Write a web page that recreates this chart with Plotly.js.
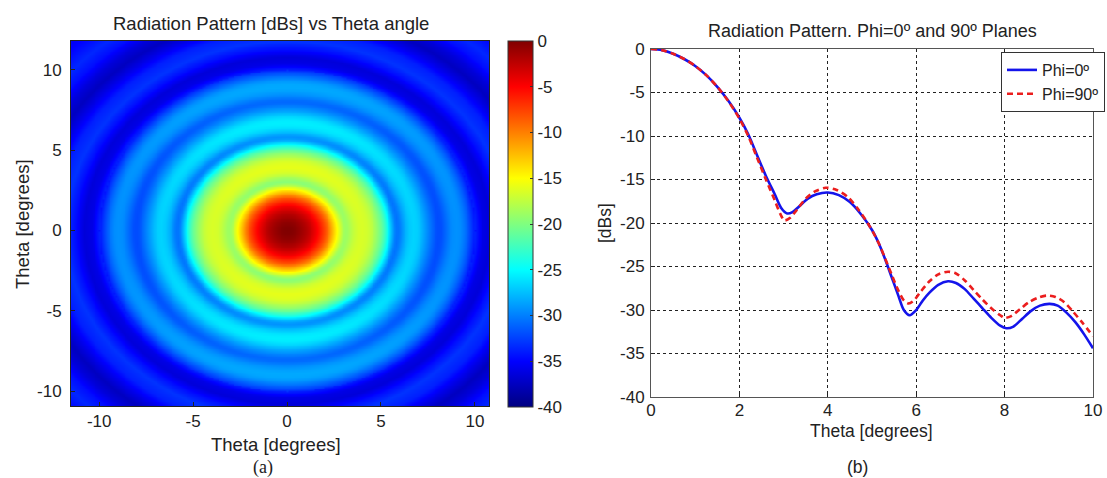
<!DOCTYPE html>
<html>
<head>
<meta charset="utf-8">
<script src="https://cdn.plot.ly/plotly-3.0.1.min.js"></script>
<style>html,body{margin:0;padding:0;background:#fff}#chart{width:1107px;height:478px}</style>
</head>
<body>
<div id="chart"></div>
<script>
// ---- Phi = 0 deg cut (blue, solid) ----
const thetaPhi0 = [0,0.25,0.5,0.75,1.0,1.25,1.5,1.75,2.0,2.2,2.4,2.6,2.8,2.95,3.08,3.2,3.35,3.55,3.75,4.0,4.25,4.5,4.75,5.0,5.15,5.3,5.45,5.6,5.72,5.85,6.0,6.15,6.3,6.5,6.72,6.9,7.1,7.3,7.5,7.7,7.9,8.04,8.2,8.4,8.6,8.8,9.02,9.2,9.4,9.6,9.8,10.0];
const dbPhi0 = [0,-0.13,-0.55,-1.15,-1.95,-3.0,-4.35,-5.95,-7.9,-9.8,-12.2,-14.6,-16.7,-18.3,-18.9,-18.75,-18.1,-17.2,-16.7,-16.5,-16.8,-17.6,-19.0,-20.8,-22.3,-24.2,-26.3,-28.4,-30.0,-30.6,-30.0,-28.9,-28.0,-27.1,-26.7,-26.9,-27.6,-28.7,-29.8,-30.9,-31.8,-32.1,-31.9,-31.0,-30.1,-29.5,-29.3,-29.5,-30.3,-31.4,-32.8,-34.4];
// ---- Phi = 90 deg cut (red, dashed) ----
const thetaPhi90 = [0,0.25,0.5,0.75,1.0,1.25,1.5,1.75,2.0,2.2,2.4,2.6,2.8,2.92,3.02,3.15,3.3,3.5,3.7,3.95,4.2,4.45,4.7,4.95,5.15,5.3,5.45,5.6,5.72,5.83,5.95,6.1,6.3,6.5,6.72,6.9,7.1,7.3,7.5,7.7,7.9,8.0,8.15,8.35,8.55,8.75,8.94,9.15,9.35,9.55,9.75,10.0];
const dbPhi90 = [0,-0.13,-0.55,-1.15,-1.95,-3.0,-4.35,-6.0,-8.0,-10.0,-12.5,-15.0,-17.4,-18.9,-19.7,-19.4,-18.5,-17.2,-16.4,-15.95,-16.2,-17.0,-18.5,-20.4,-22.3,-24.1,-26.0,-27.8,-28.9,-29.25,-28.9,-27.9,-26.7,-25.9,-25.6,-25.8,-26.6,-27.7,-28.8,-29.8,-30.6,-30.9,-30.7,-29.9,-29.1,-28.6,-28.35,-28.5,-29.1,-30.2,-31.4,-33.0];
// ---- outer radial levels (beyond 10 deg) ----
const thetaOuter = [10.0,10.4,10.8,11.3,11.8,12.4,13.0,13.5,14.0,14.6,15.2,15.8,16.8];
const dbOuter = [-33.7,-36.0,-36.5,-34.5,-33.0,-33.8,-36.0,-37.5,-36.5,-34.5,-33.5,-34.5,-36.0];
// ---- tick labels ----
const mapTicks = [-10,-5,0,5,10];
const cbarTicks = [0,-5,-10,-15,-20,-25,-30,-35,-40];
const cutXTicks = [0,2,4,6,8,10];
const cutYTicks = [0,-5,-10,-15,-20,-25,-30,-35,-40];

function interp(xs, ys, x){
  if (x <= xs[0]) return ys[0];
  for (let i=1;i<xs.length;i++){
    if (x <= xs[i]){ const t=(x-xs[i-1])/(xs[i]-xs[i-1]); return ys[i-1]+t*(ys[i]-ys[i-1]); }
  }
  return ys[ys.length-1];
}
// colour map built from the two cuts (blended by azimuth) and the outer levels
const gx = [], gy = [];
for (let v=-11.6; v<=10.86; v+=0.1) gx.push(+v.toFixed(2));
for (let v=-11.0; v<=11.9; v+=0.1) gy.push(+v.toFixed(2));
const gz = gy.map(y => gx.map(x => {
  const r = Math.hypot(x,y);
  if (r > 10) return interp(thetaOuter, dbOuter, r);
  const c2 = r===0 ? 1 : (x*x)/(r*r);
  return c2*interp(thetaPhi0, dbPhi0, r) + (1-c2)*interp(thetaPhi90, dbPhi90, r);
}));

const jet = [[0,'rgb(0,0,128)'],[0.125,'rgb(0,0,255)'],[0.375,'rgb(0,255,255)'],[0.625,'rgb(255,255,0)'],[0.875,'rgb(255,0,0)'],[1,'rgb(128,0,0)']];
const W=1107, H=478;
const px = v => v/W, py = v => 1 - v/H;
const FONT = 'Liberation Sans, Arial, sans-serif';
const TXT = '#222';
const lbl = a => a.map(v => String(v));   // ASCII hyphen minus, as in the reference

const traces = [
  {type:'heatmap', x:gx, y:gy, z:gz, xaxis:'x', yaxis:'y', colorscale:jet, zmin:-40, zmax:0, zsmooth:'best', showscale:true, hoverinfo:'skip',
   colorbar:{x:px(508), xanchor:'left', xref:'paper', y:py(41), yanchor:'top', yref:'paper', len:366, lenmode:'pixels', thickness:25, thicknessmode:'pixels',
     xpad:0, ypad:0, outlinewidth:1, outlinecolor:'#333', tickvals:cbarTicks, ticktext:lbl(cbarTicks), ticks:'inside', ticklen:3, tickcolor:'#333',
     tickfont:{family:FONT, size:17, color:TXT}, ticklabelstandoff:0}},
  {type:'scatter', mode:'lines', name:'Phi=0º', x:thetaPhi0, y:dbPhi0, xaxis:'x2', yaxis:'y2', line:{color:'rgb(20,20,235)', width:2.6, shape:'spline', smoothing:0.8}},
  {type:'scatter', mode:'lines', name:'Phi=90º', x:thetaPhi90, y:dbPhi90, xaxis:'x2', yaxis:'y2', line:{color:'rgb(235,30,30)', width:2.6, dash:'6px,4px', shape:'spline', smoothing:0.8}}
];

const axBase = {showgrid:false, zeroline:false, showline:true, mirror:true, linecolor:'#222', linewidth:1, ticks:'inside', ticklen:4, tickcolor:'#222',
  tickfont:{family:FONT, size:17, color:TXT}};
const layout = {
  width:W, height:H, margin:{l:0,r:0,t:0,b:0}, paper_bgcolor:'#fff', plot_bgcolor:'#fff', showlegend:true,
  xaxis:Object.assign({}, axBase, {domain:[px(71), px(489)], range:[-11.5,10.75], tickvals:mapTicks, ticktext:lbl(mapTicks), anchor:'y', ticklabelstandoff:0}),
  yaxis:Object.assign({}, axBase, {domain:[py(406), py(41)], range:[-10.93,11.8], tickvals:mapTicks, ticktext:lbl(mapTicks), anchor:'x', ticklabelstandoff:5}),
  xaxis2:Object.assign({}, axBase, {domain:[px(651), px(1093)], range:[0,10], tickvals:cutXTicks, ticktext:lbl(cutXTicks), anchor:'y2', linecolor:'#555',
    showgrid:true, gridcolor:'#222', griddash:'dot', gridwidth:1, ticklabelstandoff:-2}),
  yaxis2:Object.assign({}, axBase, {domain:[py(397), py(49)], range:[-40,0], tickvals:cutYTicks, ticktext:lbl(cutYTicks), anchor:'x2', linecolor:'#555',
    showgrid:true, gridcolor:'#222', griddash:'dot', gridwidth:1, ticklabelstandoff:2}),
  legend:{x:px(1001), xanchor:'left', y:py(52), yanchor:'top', bgcolor:'#fff', bordercolor:'#333', borderwidth:1,
    font:{family:FONT, size:16, color:TXT}, tracegroupgap:0, itemwidth:30},
  annotations:[
    {text:'Radiation Pattern [dBs] vs Theta angle', x:px(271), y:py(23), xref:'paper', yref:'paper', showarrow:false, xanchor:'center', yanchor:'middle', font:{family:FONT, size:18.5, color:TXT}},
    {text:'Radiation Pattern. Phi=0º and 90º Planes', x:px(872), y:py(31), xref:'paper', yref:'paper', showarrow:false, xanchor:'center', yanchor:'middle', font:{family:FONT, size:18, color:TXT}},
    {text:'Theta [degrees]', x:px(276), y:py(444), xref:'paper', yref:'paper', showarrow:false, xanchor:'center', yanchor:'middle', font:{family:FONT, size:18.5, color:TXT}},
    {text:'Theta [degrees]', x:px(22), y:py(224), xref:'paper', yref:'paper', showarrow:false, xanchor:'center', yanchor:'middle', textangle:-90, font:{family:FONT, size:18.5, color:TXT}},
    {text:'(a)', x:px(263), y:py(467), xref:'paper', yref:'paper', showarrow:false, xanchor:'center', yanchor:'middle', font:{family:'Liberation Serif, Times New Roman, serif', size:18, color:TXT}},
    {text:'Theta [degrees]', x:px(871), y:py(431), xref:'paper', yref:'paper', showarrow:false, xanchor:'center', yanchor:'middle', font:{family:FONT, size:17.5, color:TXT}},
    {text:'[dBs]', x:px(605), y:py(223), xref:'paper', yref:'paper', showarrow:false, xanchor:'center', yanchor:'middle', textangle:-90, font:{family:FONT, size:17.5, color:TXT}},
    {text:'(b)', x:px(857), y:py(467), xref:'paper', yref:'paper', showarrow:false, xanchor:'center', yanchor:'middle', font:{family:FONT, size:17.5, color:TXT}}
  ]
};
Plotly.newPlot('chart', traces, layout, {displayModeBar:false, staticPlot:true});
</script>
</body>
</html>
